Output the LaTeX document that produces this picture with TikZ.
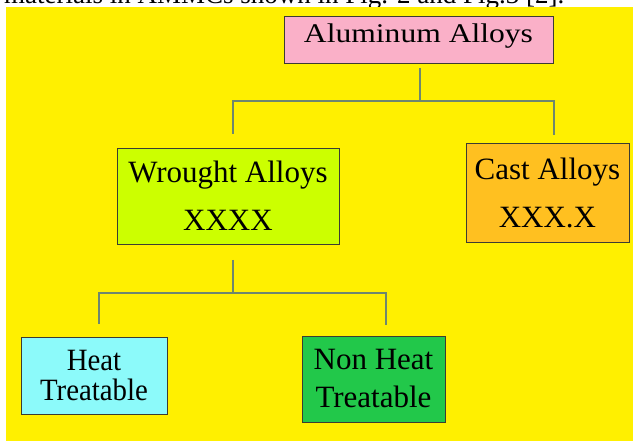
\documentclass[tikz,border=0pt]{standalone}
\usepackage{fontspec}
\setmainfont{Liberation Serif}
\newfontfamily\widefont[FakeStretch=1.17]{Liberation Serif}
\newfontfamily\narrowfont[FakeStretch=0.93]{Liberation Serif}

\definecolor{bgyellow}{RGB}{255,240,0}
\definecolor{alupink}{RGB}{250,176,200}
\definecolor{wrgreen}{RGB}{204,255,0}
\definecolor{castorange}{RGB}{255,192,32}
\definecolor{heatcyan}{RGB}{140,250,250}
\definecolor{nongreen}{RGB}{34,200,74}
\definecolor{linkgray}{RGB}{110,135,110}
\definecolor{edgegray}{RGB}{60,60,50}

\tikzset{
  classbox/.style={draw=edgegray, line width=0.8pt, inner sep=0pt, align=center},
  link/.style={draw=linkgray, line width=1.6pt},
}

\begin{document}
\begin{tikzpicture}[x=1pt, y=-1pt]
  \useasboundingbox (0,0) rectangle (633,441);
  \clip (0,0) rectangle (633,441);

  % page strip with the end of the preceding text line
  \fill[white] (0,0) rectangle (633,441);
  \node[anchor=base west, inner sep=0pt, font=\fontsize{27}{27}\selectfont]
    (caption) at (4,3.5) {materials in AMMCs shown in Fig. 2 and Fig.3 [2].};

  % slide background
  \fill[bgyellow] (5.5,7) rectangle (633,441);

  % classification boxes
  \node[classbox, fill=alupink, minimum width=269pt, minimum height=47pt,
        text height=18pt, text depth=11pt,
        font=\widefont\fontsize{27}{27}\selectfont]
    (alu) at (418.5,39.5) {Aluminum Alloys};
  \node[classbox, fill=wrgreen, minimum width=222pt, minimum height=96pt,
        font=\fontsize{31}{48}\selectfont]
    (wrought) at (228,196) {Wrought Alloys\\XXXX};
  \node[classbox, fill=castorange, minimum width=163pt, minimum height=99pt,
        font=\fontsize{31}{48}\selectfont]
    (cast) at (547.5,192.5) {Cast Alloys\\XXX.X};
  \node[classbox, fill=heatcyan, minimum width=146pt, minimum height=77pt,
        font=\narrowfont\fontsize{31}{30}\selectfont]
    (heat) at (94,375.5) {Heat\\Treatable};
  \node[classbox, fill=nongreen, minimum width=143pt, minimum height=86pt,
        font=\fontsize{31}{38}\selectfont]
    (nonheat) at (373.5,379) {Non Heat\\Treatable};

  % first level tree
  \coordinate (aluStem) at (420,68);
  \coordinate (aluJoin) at (420,101);
  \coordinate (wrTop) at (233,134);
  \coordinate (castTop) at (554,135);
  \draw[link] (aluStem) -- (aluJoin);
  \draw[link] (wrTop) |- (aluJoin) -| (castTop);

  % second level tree
  \coordinate (wrStem) at (233,260);
  \coordinate (wrJoin) at (233,293);
  \coordinate (heatTop) at (99,324);
  \coordinate (nonTop) at (386,325);
  \draw[link] (wrStem) -- (wrJoin);
  \draw[link] (heatTop) |- (wrJoin) -| (nonTop);
\end{tikzpicture}
\end{document}
